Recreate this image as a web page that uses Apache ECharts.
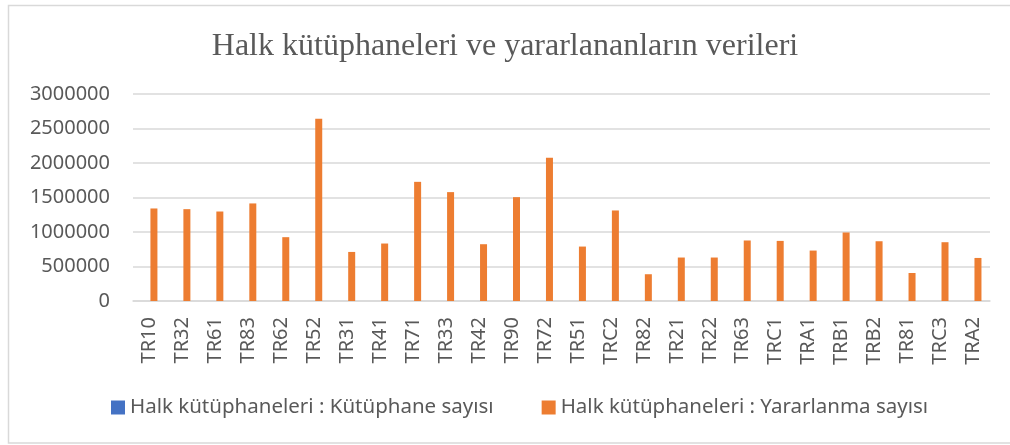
<!DOCTYPE html>
<html>
<head>
<meta charset="utf-8">
<script src="https://cdn.jsdelivr.net/npm/echarts@6/dist/echarts.min.js"></script>
<style>
  html, body { margin: 0; padding: 0; background: #fff; }
  #chart { width: 1010px; height: 445px; }
</style>
</head>
<body>
<div id="chart"></div>
<script>
// regions (NUTS2)
const regions = ['TR10', 'TR32', 'TR61', 'TR83', 'TR62', 'TR52', 'TR31', 'TR41', 'TR71', 'TR33', 'TR42', 'TR90', 'TR72',
    'TR51', 'TRC2', 'TR82', 'TR21', 'TR22', 'TR63', 'TRC1', 'TRA1', 'TRB1', 'TRB2', 'TR81', 'TRC3', 'TRA2'];

// library counts - too small to show at this scale
const kutuphaneSayisi = [42, 58, 55, 71, 40, 74, 18, 52, 66, 63, 54, 78, 52,
    18, 30, 47, 37, 33, 34, 31, 38, 43, 34, 29, 32, 34];

// number of users
const yararlanmaSayisi = [1341000, 1331000, 1297000, 1414000, 925000, 2642000, 711000, 833000, 1727000, 1578000, 823000, 1505000, 2075000,
    789000, 1312000, 388000, 630000, 630000, 877000, 871000, 731000, 993000, 866000, 406000, 852000, 624000];

const yTicks = [0, 500000, 1000000, 1500000, 2000000, 2500000, 3000000];

const gray = '#595959';
const sans = '"Noto Sans", sans-serif';

const chart = echarts.init(document.getElementById('chart'));
chart.setOption({
    animation: false,
    title: {
        text: 'Halk kütüphaneleri ve yararlananların verileri',
        left: 'center',
        top: 26,
        textStyle: {
            fontFamily: '"Liberation Serif", serif',
            fontWeight: 'normal',
            fontSize: 32,
            color: gray
        }
    },
    graphic: [{
        type: 'rect',
        shape: {x: 8.5, y: 5.5, width: 1010, height: 437.5},
        style: {fill: 'none', stroke: '#d9d9d9', lineWidth: 1.5},
        silent: true
    }],
    legend: {
        bottom: 22,
        left: 106,
        itemWidth: 14,
        itemHeight: 14,
        itemGap: 48,
        icon: 'rect',
        textStyle: {fontFamily: sans, fontSize: 20.5, color: gray}
    },
    grid: {left: 133, right: 20, top: 94, bottom: 144},
    xAxis: {
        type: 'category',
        data: regions,
        axisLine: {lineStyle: {color: '#d9d9d9', width: 1.5}},
        axisTick: {show: false},
        axisLabel: {
            rotate: 90,
            interval: 0,
            margin: 16,
            fontFamily: sans,
            fontSize: 20,
            color: gray
        }
    },
    yAxis: {
        type: 'value',
        min: yTicks[0],
        max: yTicks[yTicks.length - 1],
        interval: 500000,
        axisLine: {show: false},
        axisTick: {show: false},
        splitLine: {lineStyle: {color: '#d9d9d9', width: 1.5}},
        axisLabel: {
            margin: 23,
            fontFamily: sans,
            fontSize: 20,
            color: gray,
            formatter: (v) => String(v)
        }
    },
    series: [
        {
            name: 'Halk kütüphaneleri : Kütüphane sayısı',
            type: 'bar',
            data: kutuphaneSayisi,
            barWidth: 7,
            barGap: '27%',
            itemStyle: {color: '#4472C4'}
        },
        {
            name: 'Halk kütüphaneleri : Yararlanma sayısı',
            type: 'bar',
            data: yararlanmaSayisi,
            barWidth: 7,
            itemStyle: {color: '#ED7D31'}
        }
    ]
});
</script>
</body>
</html>
